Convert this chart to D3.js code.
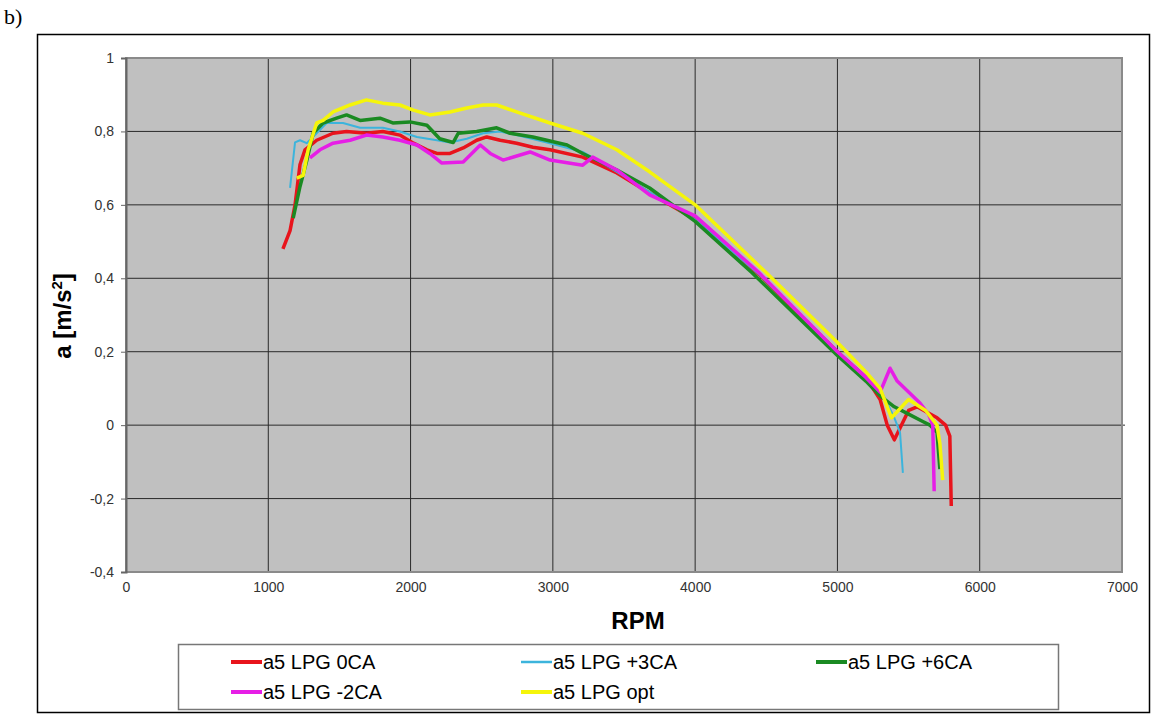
<!DOCTYPE html>
<meta charset="utf-8">
<style>
  body { margin: 0; background: #fff; }
  .tick text { font-family: "Liberation Sans", Arial, sans-serif; font-size: 14px; fill: #333; }
  .title { font-family: "Liberation Sans", Arial, sans-serif; font-weight: bold; font-size: 24px; fill: #000; }
  .legend text { font-family: "Liberation Sans", Arial, sans-serif; font-size: 20px; fill: #000; }
</style>
<svg width="1152" height="716"></svg>
<script src="https://d3js.org/d3.v7.min.js"></script>
<script>
// series values: rpm and acceleration
var rpm0 = [1103, 1153, 1188, 1223, 1258, 1340, 1455, 1550, 1690, 1805, 1925, 2020, 2115, 2185, 2277, 2370, 2465, 2535, 2630, 2745, 2860, 2980, 3210, 3450, 3680, 4000, 4450, 5000, 5200, 5300, 5350, 5400, 5500, 5560, 5700, 5760, 5790, 5800];
var acc0 = [0.48, 0.53, 0.60, 0.71, 0.75, 0.776, 0.795, 0.80, 0.795, 0.80, 0.79, 0.768, 0.75, 0.74, 0.74, 0.755, 0.776, 0.785, 0.776, 0.768, 0.757, 0.75, 0.73, 0.687, 0.632, 0.56, 0.41, 0.2, 0.13, 0.07, 0.0, -0.04, 0.04, 0.05, 0.02, 0.0, -0.03, -0.22];

var rpm3 = [1153, 1188, 1223, 1270, 1340, 1410, 1525, 1645, 1805, 1925, 2045, 2185, 2277, 2395, 2510, 2630, 2745, 2980, 3210, 3450, 3680, 4000, 4450, 5000, 5200, 5300, 5350, 5400, 5440, 5460];
var acc3 = [0.646, 0.77, 0.776, 0.768, 0.795, 0.823, 0.823, 0.81, 0.81, 0.80, 0.785, 0.776, 0.77, 0.78, 0.795, 0.80, 0.79, 0.768, 0.744, 0.69, 0.635, 0.56, 0.41, 0.2, 0.13, 0.1, 0.06, 0.02, -0.02, -0.13];

var rpm6 = [1175, 1223, 1270, 1315, 1385, 1480, 1550, 1645, 1785, 1875, 1995, 2115, 2205, 2300, 2335, 2465, 2605, 2700, 2860, 3100, 3210, 3450, 3680, 4000, 4400, 5000, 5200, 5300, 5400, 5500, 5600, 5650, 5700, 5720];
var acc6 = [0.564, 0.65, 0.72, 0.795, 0.823, 0.836, 0.845, 0.83, 0.836, 0.823, 0.826, 0.817, 0.78, 0.77, 0.795, 0.80, 0.81, 0.795, 0.785, 0.763, 0.74, 0.695, 0.646, 0.555, 0.415, 0.19, 0.12, 0.08, 0.05, 0.03, 0.01, 0.0, -0.02, -0.12];

var rpmM2 = [1293, 1363, 1455, 1575, 1690, 1805, 1925, 2045, 2135, 2220, 2370, 2490, 2560, 2650, 2840, 2980, 3210, 3280, 3450, 3680, 4000, 4450, 5000, 5200, 5300, 5370, 5420, 5500, 5580, 5640, 5670, 5680];
var accM2 = [0.728, 0.75, 0.768, 0.776, 0.79, 0.785, 0.776, 0.763, 0.74, 0.714, 0.717, 0.763, 0.74, 0.722, 0.744, 0.722, 0.708, 0.73, 0.695, 0.627, 0.57, 0.415, 0.2, 0.13, 0.09, 0.155, 0.12, 0.09, 0.06, 0.03, 0.0, -0.18];

var rpmOpt = [1200, 1245, 1280, 1340, 1385, 1455, 1575, 1690, 1805, 1925, 2020, 2135, 2277, 2395, 2510, 2605, 2745, 2980, 3210, 3450, 3680, 4000, 4500, 5000, 5200, 5300, 5380, 5500, 5620, 5700, 5720, 5740];
var accOpt = [0.673, 0.68, 0.75, 0.823, 0.83, 0.853, 0.872, 0.886, 0.877, 0.872, 0.858, 0.845, 0.853, 0.864, 0.872, 0.872, 0.853, 0.823, 0.795, 0.75, 0.69, 0.60, 0.415, 0.225, 0.145, 0.1, 0.02, 0.07, 0.04, 0.0, -0.05, -0.15];

var seriesNames = ["a5 LPG 0CA", "a5 LPG +3CA", "a5 LPG +6CA", "a5 LPG -2CA", "a5 LPG opt"];
var seriesColors = ["#e8141c", "#3cb4dc", "#1a8a22", "#e61ee6", "#f5f50a"];
var seriesWidths = [3.5, 2, 3.5, 3.5, 3.5];
var seriesRpm = [rpm0, rpm3, rpm6, rpmM2, rpmOpt];
var seriesAcc = [acc0, acc3, acc6, accM2, accOpt];

var xTicks = [0, 1000, 2000, 3000, 4000, 5000, 6000, 7000];
var yTicks = [-0.4, -0.2, 0, 0.2, 0.4, 0.6, 0.8, 1];

var svg = d3.select("svg");

// "b)" label
svg.append("text")
    .attr("x", 4).attr("y", 24)
    .style("font-family", "Liberation Serif, serif")
    .style("font-size", "22px")
    .text("b)");

// outer chart frame
svg.append("rect")
    .attr("x", 37.5).attr("y", 34.5)
    .attr("width", 1112).attr("height", 678)
    .attr("fill", "#fff").attr("stroke", "#000").attr("stroke-width", 1.5);

var plotL = 126, plotR = 1122, plotT = 58, plotB = 572;
var x = d3.scaleLinear().domain([0, 7000]).range([plotL, plotR]);
var y = d3.scaleLinear().domain([-0.4, 1]).range([plotB, plotT]);

// plot background
svg.append("rect")
    .attr("x", plotL).attr("y", plotT)
    .attr("width", plotR - plotL).attr("height", plotB - plotT)
    .attr("fill", "#c0c0c0");

// grid
svg.append("g").selectAll("line")
    .data(xTicks.slice(1, -1))
    .enter().append("line")
    .attr("x1", d => x(d)).attr("x2", d => x(d))
    .attr("y1", plotT).attr("y2", plotB)
    .attr("stroke", "#2a2a2a").attr("stroke-width", 1);
svg.append("g").selectAll("line")
    .data(yTicks.slice(1, -1))
    .enter().append("line")
    .attr("x1", plotL).attr("x2", d => d === 0 ? plotR + 3 : plotR)
    .attr("y1", d => y(d)).attr("y2", d => y(d))
    .attr("stroke", "#2a2a2a").attr("stroke-width", 1);

// plot border
svg.append("rect")
    .attr("x", plotL).attr("y", plotT)
    .attr("width", plotR - plotL).attr("height", plotB - plotT)
    .attr("fill", "none").attr("stroke", "#8a8a8a").attr("stroke-width", 2);

// axes
var yAxis = d3.axisLeft(y).tickValues(yTicks).tickSize(5).tickPadding(7)
    .tickFormat(d => String(+d.toFixed(1)).replace(".", ","));
svg.append("g").attr("transform", "translate(" + plotL + ",0)").call(yAxis)
    .call(g => g.select(".domain").attr("stroke", "#666").attr("stroke-width", 2))
    .call(g => g.selectAll(".tick line").attr("stroke", "#666"));

var xAxis = d3.axisBottom(x).tickValues(xTicks).tickSize(0).tickPadding(10).tickFormat(d3.format("d"));
svg.append("g").attr("transform", "translate(0," + plotB + ")").call(xAxis)
    .call(g => g.select(".domain").remove());

// axis titles
svg.append("text").attr("class", "title")
    .attr("x", 638).attr("y", 629)
    .attr("text-anchor", "middle")
    .text("RPM");
var yt = svg.append("text").attr("class", "title")
    .attr("transform", "translate(71,316) rotate(-90)")
    .attr("text-anchor", "middle");
yt.append("tspan").text("a [m/s");
yt.append("tspan").attr("dy", -9).style("font-size", "15px").text("2");
yt.append("tspan").attr("dy", 9).text("]");

// lines
var line = d3.line().x(d => x(d[0])).y(d => y(d[1]));
seriesNames.forEach(function (name, i) {
  var pts = d3.zip(seriesRpm[i], seriesAcc[i]);
  svg.append("path")
      .datum(pts)
      .attr("fill", "none")
      .attr("stroke", seriesColors[i])
      .attr("stroke-width", seriesWidths[i])
      .attr("stroke-linejoin", "round")
      .attr("d", line);
});

// legend
var lg = svg.append("g").attr("class", "legend");
lg.append("rect")
    .attr("x", 178.5).attr("y", 644.5)
    .attr("width", 880).attr("height", 65)
    .attr("fill", "#fff").attr("stroke", "#777").attr("stroke-width", 1.5);
var colX = [231, 521, 816], rowY = [662, 692];
seriesNames.forEach(function (name, i) {
  var cx = colX[i % 3], cy = rowY[Math.floor(i / 3)];
  lg.append("line")
      .attr("x1", cx).attr("x2", cx + 31)
      .attr("y1", cy).attr("y2", cy)
      .attr("stroke", seriesColors[i])
      .attr("stroke-width", seriesWidths[i] + 0.5);
  lg.append("text")
      .attr("x", cx + 32).attr("y", cy + 7)
      .text(name);
});
</script>
